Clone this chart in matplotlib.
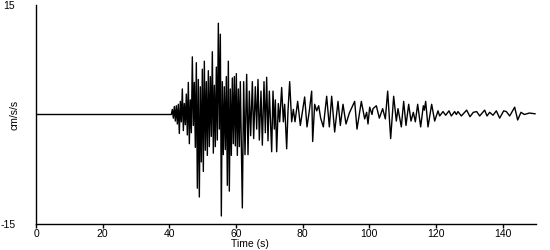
import matplotlib
matplotlib.use("Agg")
import matplotlib.pyplot as plt

plt.rcParams["font.family"] = ["Liberation Sans", "DejaVu Sans"]

# pre-event flat trace
quiet_t = [0.0, 40.6]
quiet_v = [0.0, 0.0]

# P onset and strong shaking (s, cm/s/s)
strong_t = [40.9, 41.2, 41.5, 41.8, 42.1, 42.4, 42.7, 43.0, 43.3, 43.6,
            43.9, 44.2, 44.5, 44.8, 45.1, 45.4, 45.7, 46.0, 46.3, 46.6,
            46.9, 47.2, 47.5, 47.8, 48.1, 48.4, 48.7, 49.0, 49.3, 49.6,
            49.9, 50.2, 50.5, 50.8, 51.1, 51.4, 51.7, 52.0, 52.3, 52.6,
            52.9, 53.2, 53.5, 53.8, 54.1, 54.4, 54.7, 55.0, 55.3, 55.6,
            55.9, 56.2, 56.5, 56.8, 57.1, 57.4, 57.7, 58.0, 58.3, 58.6,
            58.9, 59.2, 59.5, 59.8, 60.1, 60.4, 60.7, 61.0, 61.3, 61.9]
strong_v = [0.7, -0.5, 1.1, -0.9, 1.2, -1.3, 1.4, -2.6, 1.8, -1.0,
            3.5, -2.2, 1.5, -1.4, 2.8, -2.8, 4.4, -4.0, 2.0, -2.5,
            7.9, -1.5, 4.4, -4.5, 7.1, -10.1, 4.8, -11.3, 3.8, -6.5,
            6.2, -7.8, 7.3, -4.9, 4.5, -5.6, 6.0, -4.4, 5.2, -3.0,
            8.6, -5.3, 4.0, -4.4, 6.5, -3.5, 12.5, -2.0, 11.0, -13.9,
            4.5, -5.5, 3.8, -4.8, 5.2, -9.7, 7.3, -10.5, 3.5, -5.6,
            5.0, -4.0, 5.2, -4.3, 5.6, -5.6, 3.5, -4.4, 4.5, -12.8]

# later arrivals
late_t = [62.3, 62.7, 63.2, 63.6, 64.0, 64.4, 64.9, 65.3, 65.8, 66.2,
          66.6, 67.0, 67.5, 67.9, 68.4, 68.8, 69.2, 69.6, 70.0, 70.7,
          71.1, 71.5, 71.8, 72.2, 72.7, 73.1, 73.7, 74.2, 74.6, 75.2,
          75.6, 76.1]
late_v = [4.5, -5.5, 5.5, -5.5, 3.2, -2.9, 4.5, -3.3, 3.8, -2.0,
          4.8, -3.5, 3.2, -4.2, 4.5, -2.5, 5.1, -3.6, 3.2, -5.1,
          3.2, -2.0, 2.0, -5.1, 1.5, -1.0, 3.7, -1.0, 1.4, -4.7,
          0.5, 4.5]

# coda
coda_t = [76.7, 77.2, 77.7, 78.5, 79.3, 80.6, 81.3, 82.0, 82.7, 83.0,
          83.6, 84.2, 84.8, 85.4, 86.2, 87.2, 88.0, 88.7, 89.6, 90.6,
          91.3, 92.1, 93.0, 94.0, 95.6, 96.3, 97.6, 98.6, 99.2, 99.6,
          100.1, 100.8, 101.1, 102.1, 103.0, 104.0, 104.8, 105.5, 106.4, 107.3,
          108.1, 108.6, 109.6, 110.3, 111.0, 111.8, 112.5, 113.2, 113.8, 114.5,
          115.4, 116.2, 116.5, 116.9, 117.6, 118.7, 119.6, 120.6, 121.1, 122.1,
          122.9, 123.9, 124.6, 125.6, 126.1, 126.6, 127.6, 128.6, 129.2, 130.2,
          131.2, 132.2, 133.1, 134.6, 135.3, 136.1, 137.1, 138.1, 139.1, 140.3,
          141.1, 142.1, 143.6, 144.5, 145.5, 146.5, 148.0, 149.7]
coda_v = [-1.0, 0.7, -1.0, 1.8, -1.5, 2.4, -1.7, 0.5, 3.2, -3.7,
          1.4, 0.5, 1.2, -0.5, -1.7, 2.5, -1.7, 2.5, -2.4, 1.8,
          -1.5, 1.4, -1.3, 0.2, 1.8, -2.0, 1.8, -0.6, 0.3, -1.3,
          1.0, 0.0, 0.8, 1.2, -0.5, 0.8, -0.6, 3.2, -3.3, 2.5,
          -0.9, 0.8, -1.7, 1.8, -1.5, 1.4, -0.9, 0.3, -1.0, 1.4,
          -1.7, 1.2, 0.6, 1.8, -1.7, 1.4, -0.9, 0.5, -0.2, 0.4,
          -0.1, 0.5, -0.2, 0.4, 0.0, 0.4, -0.2, 0.3, 0.6, -0.3,
          0.3, 0.4, -0.2, 0.6, -0.2, 0.3, -0.1, 0.5, -0.5, 0.5,
          0.4, -0.2, 1.0, -0.75, 0.3, 0.0, 0.2, 0.1]

time_s = quiet_t + strong_t + late_t + coda_t
accel = quiet_v + strong_v + late_v + coda_v

x_ticks = [0, 20, 40, 60, 80, 100, 120, 140]

fig = plt.figure(figsize=(5.5, 2.5), dpi=100)
ax = fig.add_axes([36 / 550, 26 / 250, 500 / 550, 219 / 250])
ax.plot(time_s, accel, color="black", linewidth=1.0)

ax.set_xlim(0, 150)
ax.set_ylim(-15, 15)
ax.spines["top"].set_visible(False)
ax.spines["right"].set_visible(False)
for s in ("left", "bottom"):
    ax.spines[s].set_linewidth(1.0)
    ax.spines[s].set_color("black")

ax.set_xticks(x_ticks)
ax.set_xticklabels([str(t) for t in x_ticks])
ax.tick_params(axis="x", direction="out", length=3, width=1, pad=0.5, labelsize=7.5)
ax.set_yticks([-15, 15])
ax.set_yticklabels(["-15", "15"])
ax.tick_params(axis="y", length=0, pad=15, labelsize=7.5)

ax.set_xlabel("Time (s)", fontsize=7.5, va="bottom")
ax.xaxis.set_label_coords(0.428, -0.116)
ax.set_ylabel("cm/s/s", fontsize=7.5)
ax.yaxis.set_label_coords(-0.034, 0.5)

fig.savefig("out.png", dpi=100)
